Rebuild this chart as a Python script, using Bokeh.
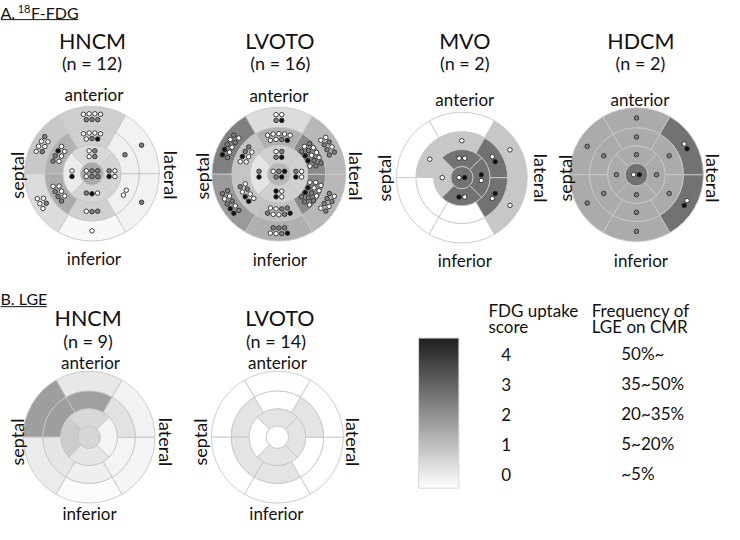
import math
from bokeh.plotting import figure
from bokeh.models import Range1d
from bokeh.core.properties import value
from bokeh.embed import file_html
from bokeh.resources import INLINE

# ---------------- data (AHA 17-segment model, segments 1..17) ----------------
# mean FDG uptake score (0-4) shading each segment
HNCM_FDG = [0.85, 0.98, 0.62, 0.12, 0.23, 0.23, 0.84, 1.37, 1.48, 0.84, 0.27, 0.27, 0.69, 0.36, 0.76, 0.76, 1.51]
LVOTO_FDG = [0.62, 2.26, 1.80, 1.40, 1.26, 1.26, 1.40, 1.05, 1.05, 1.12, 2.08, 2.08, 0.84, 0.48, 0.84, 0.84, 1.26]
MVO_FDG = [0, 0, 0, 0, 1, 1, 1, 1, 0, 0, 2.5, 2.5, 2.5, 1, 2.5, 2.5, 2.5]
HDCM_FDG = [1.5, 1.5, 1.5, 1.5, 2.5, 2.5, 1.5, 1.5, 1.5, 1.5, 1.5, 1.5, 1.5, 1.5, 1.5, 1.5, 2.5]

# individual patients in each segment (w = low, g = moderate, b = high uptake)
HNCM_DOTS = ["wwwwggg", "wwwggww", "wwwgw", "w", "g", "g", "wwwwwgb", "ggbwwww", "gggwwww",
             "ggw", "ww", "g", "wgwg", "bw", "wbg", "wwgb", "wggwgg"]
LVOTO_DOTS = ["wwgb", "bbgwggwwgw", "bbgwggwgwg", "bgwwggg", "wgwggggw", "wgwgwggg", "wwwwwwwgb",
              "wbggwww", "bbwgwwgw", "bgwwgggww", "wwwgwwwgggwbbg", "gwwwgwgwgggbbw", "wggb", "bg",
              "wbwb", "wwgb", "wgbgb"]
MVO_DOTS = ["", "", "", "", "w", "w", "w", "w", "", "", "bw", "wb", "ww", "w", "wb", "bw", "wb"]
HDCM_DOTS = ["g", "g", "g", "g", "wb", "wb", "g", "g", "g", "g", "g", "g", "g", "g", "g", "g", "wb"]

# LGE frequency grade on the same 0-4 scale
LGE_HNCM = [0.41, 1.72, 0.36, 0.07, 0.18, 0.23, 1.70, 1.72, 0.45, 0.28, 0.20, 0.52, 0.70, 0.90, 0.45, 0.20, 0.72]
LGE_LVOTO = [0, 0, 0, 0, 0, 0, 0, 0.48, 0.48, 0.48, 0, 0.48, 0.48, 0, 0.48, 0.48, 0]

FDG_GROUPS = ["HNCM", "LVOTO", "MVO", "HDCM"]
FDG_N = [12, 16, 2, 2]
LGE_GROUPS = ["HNCM", "LVOTO"]
LGE_N = [9, 14]
LEGEND_SCORES = ["4", "3", "2", "1", "0"]
LEGEND_LGE = ["50%~", "35~50%", "20~35%", "5~20%", "~5%"]

# ---------------- layout (reference image coordinates) ----------------
FONT = value("Lato")
INK = "#111111"
EDGE = "#c6c6c6"
DOT_FILL = {"w": "#ffffff", "g": "#808080", "b": "#0d0d0d"}
RING = [1.0, 0.70, 0.43, 0.17]
SP = 5.8

# cx, cy, R, title(x,y), n(x,y), ant(x,y), inf(x,y), sep x, lat x, side y
PANELS_A = [
    (95, 175.5, 68.5, (95.5, 40.5), (95, 62.5), (97, 95), (97, 261.5), 18.5, 175, 177),
    (285, 176, 68, (286, 40.5), (286.5, 62.5), (285, 96), (286, 263), 206.5, 363, 178),
    (471, 179.5, 66.5, (474, 40), (474, 62.5), (474, 99.5), (474, 263.5), 391.5, 551, 180),
    (648.5, 176.5, 68, (653, 40), (652.5, 62.5), (652, 99.5), (653, 263.5), 575.5, 726, 180),
]
PANELS_B = [
    (92, 444, 67, (91, 322.5), (91, 345.5), (93.5, 367.5), (92.5, 521.5), 18.5, 170.5, 449),
    (283.5, 444, 67, (286, 322.5), (282, 345.5), (283.5, 367.5), (282.5, 521.5), 205, 360, 449),
]


def YD(yi):
    return -yi


def gray(score):
    g = int(round(255 - score * 56.25))
    g = max(0, min(255, g))
    return "#%02x%02x%02x" % (g, g, g)


def seg_geom(i, R):
    if i < 6:
        r0, r1, a0, a1 = RING[1] * R, RING[0] * R, 60 + 60 * i, 120 + 60 * i
    elif i < 12:
        r0, r1, a0, a1 = RING[2] * R, RING[1] * R, 60 + 60 * (i - 6), 120 + 60 * (i - 6)
    elif i < 16:
        r0, r1, a0, a1 = RING[3] * R, RING[2] * R, 45 + 90 * (i - 12), 135 + 90 * (i - 12)
    else:
        r0, r1, a0, a1 = 0, RING[3] * R, 0, 360
    return r0, r1, math.radians(a0), math.radians(a1)


def dot_positions(i, n, cx, cy, R):
    r0, r1, a0, a1 = seg_geom(i, R)
    pts = []
    if n == 0:
        return pts
    if i == 16:
        ncol = min(3, n)
        nrow = math.ceil(n / ncol)
        for k in range(n):
            row, col = divmod(k, ncol)
            m = min(ncol, n - row * ncol)
            pts.append((cx + (col - (m - 1) / 2) * SP, cy + ((nrow - 1) / 2 - row) * SP))
        return pts
    nrow = 1 if n <= 3 else (2 if n <= 10 else 3)
    per = [n // nrow + (1 if k < n % nrow else 0) for k in range(nrow)]
    rm, am = (r0 + r1) / 2, (a0 + a1) / 2
    for k, m in enumerate(per):
        r = rm + ((nrow - 1) / 2 - k) * SP
        step = SP / r
        for j in range(m):
            a = am - (j - (m - 1) / 2) * step
            pts.append((cx + r * math.cos(a), cy + r * math.sin(a)))
    return pts


p = figure(width=724, height=524, x_range=Range1d(2, 738), y_range=Range1d(-533, 1),
           output_backend="svg", toolbar_location=None, min_border=0)
p.axis.visible = False
p.xgrid.visible = False
p.ygrid.visible = False
p.outline_line_color = None
p.background_fill_color = "white"


def bullseye(panel, scores, dots, title, n):
    cx, cy_i, R, t, nn, ant, inf, sx, lx, sy = panel
    cy = YD(cy_i)
    xs, ys, r0s, r1s, a0s, a1s, cols = [], [], [], [], [], [], []
    for i in range(16):
        r0, r1, a0, a1 = seg_geom(i, R)
        xs.append(cx); ys.append(cy); r0s.append(r0); r1s.append(r1)
        a0s.append(a0); a1s.append(a1); cols.append(gray(scores[i]))
    p.annular_wedge(x=xs, y=ys, inner_radius=r0s, outer_radius=r1s, start_angle=a0s,
                    end_angle=a1s, fill_color=cols, line_color=EDGE, line_width=0.9)
    p.circle(x=[cx], y=[cy], radius=RING[3] * R, fill_color=gray(scores[16]),
             line_color=EDGE, line_width=0.9)
    if dots is not None:
        dx, dy, dc = [], [], []
        for i in range(17):
            pts = dot_positions(i, len(dots[i]), cx, cy, R)
            for (px, py), c in zip(pts, dots[i]):
                dx.append(px); dy.append(py); dc.append(DOT_FILL[c])
        if dx:
            p.scatter(x=dx, y=dy, size=4.5, marker="circle", fill_color=dc,
                      line_color="#2a2a2a", line_width=0.9)
    p.text(x=[t[0]], y=[YD(t[1])], text=[title], text_font=FONT, text_font_size="21.5px",
           text_align="center", text_baseline="middle", text_color=INK)
    p.text(x=[nn[0]], y=[YD(nn[1])], text=["(n = %d)" % n], text_font=FONT, text_font_size="18px",
           text_align="center", text_baseline="middle", text_color=INK)
    p.text(x=[ant[0], inf[0]], y=[YD(ant[1]), YD(inf[1])], text=["anterior", "inferior"],
           text_font=FONT, text_font_size="17px", text_align="center", text_baseline="middle",
           text_color=INK)
    p.text(x=[sx], y=[YD(sy)], text=["septal"], angle=math.pi / 2, text_font=FONT,
           text_font_size="18px", text_align="center", text_baseline="middle", text_color=INK)
    p.text(x=[lx], y=[YD(sy)], text=["lateral"], angle=-math.pi / 2, text_font=FONT,
           text_font_size="18px", text_align="center", text_baseline="middle", text_color=INK)


fdg_scores = [HNCM_FDG, LVOTO_FDG, MVO_FDG, HDCM_FDG]
fdg_dots = [HNCM_DOTS, LVOTO_DOTS, MVO_DOTS, HDCM_DOTS]
for panel, sc, dt, g, n in zip(PANELS_A, fdg_scores, fdg_dots, FDG_GROUPS, FDG_N):
    bullseye(panel, sc, dt, g, n)

lge_scores = [LGE_HNCM, LGE_LVOTO]
for panel, sc, g, n in zip(PANELS_B, lge_scores, LGE_GROUPS, LGE_N):
    bullseye(panel, sc, None, g, n)

# section labels: "A. 18F-FDG" (superscript mass number) and "B. LGE"
p.text(x=[2, 33, 2], y=[YD(11), YD(11), YD(303)], text=["A.", "F-FDG", "B. LGE"],
       text_font=FONT, text_font_size="16px", text_align="left", text_baseline="middle",
       text_color=INK)
p.text(x=[19.5], y=[YD(8)], text=["18"], text_font=FONT, text_font_size="11px",
       text_align="left", text_baseline="middle", text_color=INK)
p.segment(x0=[2, 2], y0=[YD(18.5), YD(311)], x1=[81, 49], y1=[YD(18.5), YD(311)],
          line_color=INK, line_width=1)

# gradient legend bar (score 0 at bottom -> 4 at top)
NB = 120
bar_l, bar_r, bar_top, bar_bot = 427, 468, 343, 496
hs = (bar_bot - bar_top) / NB
b_bottom = [YD(bar_bot - k * hs) for k in range(NB)]
b_top = [min(YD(bar_bot - (k + 1) * hs) + 1.2, YD(bar_top)) for k in range(NB)]
b_col = [gray(4.0 * (k + 0.5) / NB) for k in range(NB)]
p.quad(left=[bar_l] * NB, right=[bar_r] * NB, bottom=b_bottom, top=b_top,
       fill_color=b_col, line_color=None)
p.quad(left=[bar_l], right=[bar_r], bottom=[YD(bar_bot)], top=[YD(bar_top)],
       fill_color=None, line_color="#dadada", line_width=1)

p.text(x=[498, 498, 603, 603], y=[YD(315), YD(331.5), YD(315), YD(331.5)],
       text=["FDG uptake", "score", "Frequency of", "LGE on CMR"], text_font=FONT,
       text_font_size="17px", text_align="left", text_baseline="middle", text_color=INK)
row_y = [YD(360 + 30.6 * k) for k in range(5)]
p.text(x=[516] * 5, y=row_y, text=LEGEND_SCORES, text_font=FONT, text_font_size="17px",
       text_align="center", text_baseline="middle", text_color=INK)
p.text(x=[633] * 5, y=[v + 1.5 for v in row_y], text=LEGEND_LGE, text_font=FONT,
       text_font_size="17px", text_align="left", text_baseline="middle", text_color=INK)

open("out.html", "w").write(file_html(p, INLINE))
